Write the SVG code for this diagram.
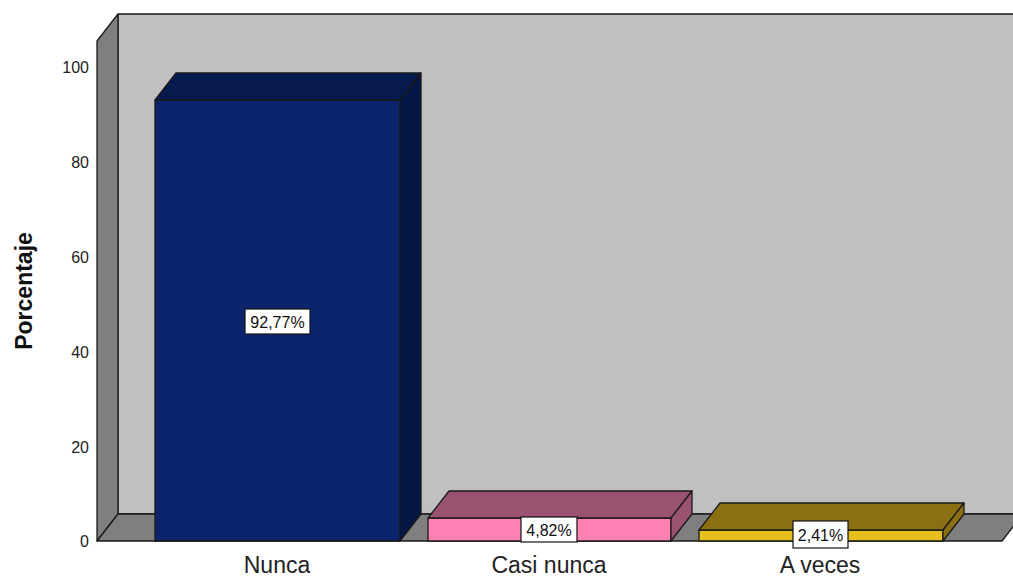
<svg xmlns="http://www.w3.org/2000/svg" width="1013" height="578" viewBox="0 0 1013 578">
<style>
.edge{stroke:#1a1a1a;stroke-width:1.3;stroke-linejoin:round}
.tick{font-family:"Liberation Sans",Arial,sans-serif;font-size:16px;fill:#222;text-anchor:end}
.cat{font-family:"Liberation Sans",Arial,sans-serif;font-size:23px;fill:#222;text-anchor:middle}
.val{font-family:"Liberation Sans",Arial,sans-serif;font-size:16px;fill:#111;text-anchor:middle}
.box{fill:#fff;stroke:#111;stroke-width:1.2}
</style>
<rect width="1013" height="578" fill="#fff"/>
<g id="frame">
<polygon class="edge" points="118,14 1014,14 1014,514 118,514" fill="#c0c0c0"/>
<polygon class="edge" points="97,41 118,14 118,514 97,541" fill="#7f7f7f"/>
<polygon class="edge" points="97,541 118,514 1023,514 1002,541" fill="#7f7f7f"/>
</g>
<g id="axis">
<text class="tick" x="89" y="73">100</text>
<text class="tick" x="89" y="168">80</text>
<text class="tick" x="89" y="263">60</text>
<text class="tick" x="89" y="358">40</text>
<text class="tick" x="89" y="453">20</text>
<text class="tick" x="89" y="547">0</text>
<text transform="translate(32,291) rotate(-90)" font-family="'Liberation Sans',Arial,sans-serif" font-size="23" font-weight="bold" fill="#111" text-anchor="middle">Porcentaje</text>
</g>
<g id="bar-nunca">
<rect class="edge" x="155" y="100" width="245" height="441" fill="#0a246e"/>
<polygon class="edge" points="155,100 176,73 421,73 400,100" fill="#061a4e"/>
<polygon class="edge" points="400,100 421,73 421,514 400,541" fill="#051747"/>
<rect class="box" x="245" y="309" width="65" height="25"/>
<text class="val" x="277.5" y="327.5">92,77%</text>
</g>
<g id="bar-casi-nunca">
<rect class="edge" x="428" y="518" width="243" height="23" fill="#ff80b2"/>
<polygon class="edge" points="428,518 449,491 692,491 671,518" fill="#9b5270"/>
<polygon class="edge" points="671,518 692,491 692,514 671,541" fill="#9b5270"/>
<rect class="box" x="521" y="517" width="56" height="25"/>
<text class="val" x="549" y="535.5">4,82%</text>
</g>
<g id="bar-a-veces">
<rect class="edge" x="699" y="530" width="244" height="11" fill="#e6be1e"/>
<polygon class="edge" points="699,530 720,503 964,503 943,530" fill="#8a7012"/>
<polygon class="edge" points="943,530 964,503 964,514 943,541" fill="#8a7012"/>
<rect class="box" x="793" y="521" width="55" height="27"/>
<text class="val" x="820.5" y="540.5">2,41%</text>
</g>
<g id="labels">
<text class="cat" x="277" y="573">Nunca</text>
<text class="cat" x="549" y="573">Casi nunca</text>
<text class="cat" x="820" y="573">A veces</text>
</g>
</svg>
